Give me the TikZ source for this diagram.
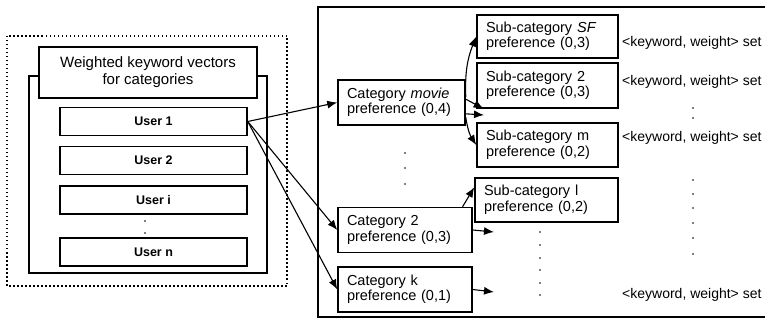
\documentclass[tikz,border=0pt]{standalone}
\usepackage{fontspec}
\setmainfont{Liberation Sans}
\usetikzlibrary{arrows.meta}

\begin{document}
\begin{tikzpicture}[x=1pt,y=-1pt,
    box/.style={draw, line width=1.5pt, fill=white, inner xsep=9pt, inner ysep=0pt,
      align=left, minimum height=45pt, font=\fontsize{14.5}{15.5}\selectfont},
    userbox/.style={draw, line width=1.5pt, fill=white, minimum width=187pt,
      minimum height=28pt, font=\bfseries\fontsize{12.5}{14}\selectfont},
    arr/.style={line width=1.1pt, -{Latex[length=10pt,width=8pt]}},
    kw/.style={anchor=west, inner sep=0pt, font=\fontsize{14}{15}\selectfont},
    dot/.style={circle, fill, inner sep=0pt, minimum size=1.8pt}]
  \useasboundingbox (0,0) rectangle (765,320);
  \clip (0,0) rectangle (765,320);

  % left part
  \draw[line width=1.2pt, dash pattern=on 1.5pt off 2.5pt] (7,36) rectangle (287,286);
  \draw[line width=1.5pt] (29,76) rectangle (267,273);
  \node[draw, line width=1.5pt, fill=white, minimum width=218pt, minimum height=51pt,
    align=center, font=\fontsize{15}{17}\selectfont] (title) at (148,72.5)
    {Weighted keyword vectors\\for categories};
  \node[userbox] (u1) at (153.5,121.5) {User 1};
  \node[userbox] (u2) at (153.5,160.5) {User 2};
  \node[userbox] (ui) at (153.5,200) {User i};
  \node[userbox] (un) at (153.5,252) {User n};
  \node[dot] (d1) at (145,221) {};
  \node[dot] (d2) at (145,233) {};

  % right part
  \draw[line width=1.5pt] (318,7) rectangle (775,317);
  \node[box, text width=109pt] (catmovie) at (401.5,102.5)
    {Category \textit{movie}\\preference (0,4)};
  \node[box, text width=116pt] (cat2) at (405,230) {Category 2\\preference (0,3)};
  \node[box, text width=116pt] (catk) at (405,289.5) {Category k\\preference (0,1)};

  \node[box, text width=123pt, minimum height=43pt] (subsf) at (547.5,36.5)
    {Sub-category \textit{SF}\\preference (0,3)};
  \node[box, text width=123pt] (sub2) at (547.5,85.5) {Sub-category 2\\preference (0,3)};
  \node[box, text width=123pt, minimum height=44pt] (subm) at (547.5,145)
    {Sub-category m\\preference (0,2)};
  \node[box, text width=125pt, minimum height=44pt] (subl) at (546.5,200)
    {Sub-category l\\preference (0,2)};

  \node[kw] (kw1) at (622,43) {<keyword, weight> set};
  \node[kw] (kw2) at (622,82) {<keyword, weight> set};
  \node[kw] (kw3) at (622,138) {<keyword, weight> set};
  \node[kw] (kw4) at (622,295) {<keyword, weight> set};

  \foreach \y in {153,168,184} \node[dot] at (405,\y) {};
  \foreach \y in {108,118} \node[dot] at (693,\y) {};
  \foreach \y in {232,245,258,270,283,295} \node[dot] at (540,\y) {};
  \foreach \y in {180,194,208,223,238,254} \node[dot] at (693,\y) {};

  \coordinate (e1) at (484,115);
  \coordinate (e2) at (494,232);
  \coordinate (e3) at (494,292);

  \draw[arr] (u1.east) -- (catmovie.west);
  \draw[arr] (u1.east) -- (cat2.west);
  \draw[arr] (u1.east) -- (catk.west);

  \draw[arr] (catmovie.5) to[bend left=12] (subsf.west);
  \draw[arr] (catmovie.3) -- (sub2.200);
  \draw[arr] (catmovie.-10) -- (e1);
  \draw[arr] (catmovie.-13) to[bend right=12] (subm.west);

  \draw[arr] (cat2.22) -- (subl.170);
  \draw[arr] (cat2.east) -- (e2);
  \draw[arr] (catk.east) -- (e3);
\end{tikzpicture}
\end{document}
